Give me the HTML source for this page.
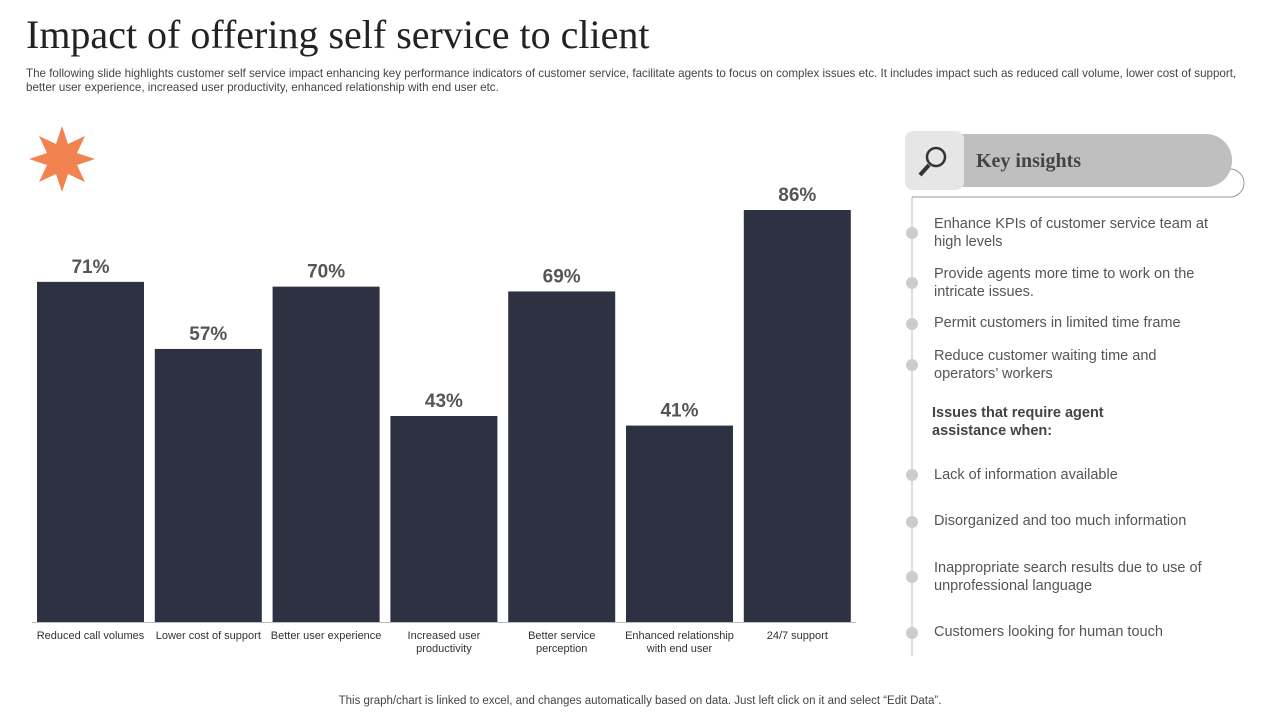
<!DOCTYPE html>
<html><head><meta charset="utf-8"><style>
body{margin:0;width:1280px;height:720px;background:#fff;font-family:"Liberation Sans",sans-serif;position:relative;overflow:hidden}
.abs{position:absolute}
h1{position:absolute;left:26px;top:11px;margin:0;font-family:"Liberation Serif",serif;font-weight:normal;font-size:40px;color:#222}
.sub{left:26px;top:67px;width:1215px;font-size:11.6px;line-height:14px;color:#444}
.item{left:934px;font-size:14.5px;line-height:18px;color:#555;width:290px}
.dot{left:906px;width:12px;height:12px;border-radius:50%;background:#ccc}
</style></head><body>
<h1>Impact of offering self service to client</h1>
<div class="abs sub">The following slide highlights customer self service impact enhancing key performance indicators of customer service, facilitate agents to focus on complex issues etc. It includes impact such as reduced call volume, lower cost of support, better user experience, increased user productivity, enhanced relationship with end user etc.</div>
<svg class="abs" style="left:0;top:0" width="880" height="680">
<polygon fill="#f0834f" points="62,126 68,144 85,136 77,153 95,159 77,165 85,182 68,174 62,192 56,174 39,182 47,165 29,159 47,153 39,136 56,144"/>
<g id="g"></g>
</svg>
<script>
const categories=["Reduced call volumes","Lower cost of support","Better user experience","Increased user|productivity","Better service|perception","Enhanced relationship|with end user","24/7 support"];
const values=[71,57,70,43,69,41,86];
const labels=["71%","57%","70%","43%","69%","41%","86%"];
const g=document.getElementById('g');const NS="http://www.w3.org/2000/svg";
const base=622,ppu=412/86,x0=37,step=117.8,bw=107;
function y(v){return base-v*ppu}
function mk(t,a){const e=document.createElementNS(NS,t);for(const k in a)e.setAttribute(k,a[k]);g.appendChild(e);return e}
const ax=mk('line',{x1:32,x2:856,y1:base+0.5,y2:base+0.5,stroke:'#bbb'});


values.forEach((v,i)=>{const x=x0+i*step;
const r=mk('rect',{x:x,y:y(v),width:bw,height:base-y(v),fill:'#2e3142'});


const t=mk('text',{x:x+bw/2,y:y(v)-9,'text-anchor':'middle','font-size':19,'font-weight':'bold',fill:'#555'});t.textContent=labels[i];


categories[i].split('|').forEach((l,j)=>{const c=mk('text',{x:x+bw/2,y:639+j*13,'text-anchor':'middle','font-size':11,fill:'#333'});c.textContent=l;

});
});
</script>
<svg class="abs" style="top:0;left:900px" width="380" height="680">
<path d="M12,197 L12,656" stroke="#bbb" fill="none"/>
<path d="M12,197 L330,197 A14,14 0 0 0 330,169 L320,169" stroke="#999" fill="none"/>
<rect x="20" y="134" width="312" height="53" rx="26" fill="#bfbfbf"/>
<rect x="5" y="131" width="59" height="59" rx="8" fill="#e6e6e6"/>
<circle cx="36" cy="157" r="9" fill="none" stroke="#333" stroke-width="2.5"/>
<line x1="29" y1="165" x2="20" y2="175" stroke="#333" stroke-width="4"/>
</svg>
<div class="abs" style="left:976px;top:150px;font-family:'Liberation Serif',serif;font-weight:bold;font-size:20px;color:#444">Key insights</div>
<div class="abs dot" style="top:227px"></div>
<div class="abs item" style="top:215px">Enhance KPIs of customer service team at high levels</div>
<div class="abs dot" style="top:277px"></div>
<div class="abs item" style="top:265px">Provide agents more time to work on the intricate issues.</div>
<div class="abs dot" style="top:318px"></div>
<div class="abs item" style="top:314px">Permit customers in limited time frame</div>
<div class="abs dot" style="top:359px"></div>
<div class="abs item" style="top:347px">Reduce customer waiting time and operators’ workers</div>
<div class="abs item" style="left:932px;top:404px;font-weight:bold;color:#444">Issues that require agent<br>assistance when:</div>
<div class="abs dot" style="top:469px"></div>
<div class="abs item" style="top:466px">Lack of information available</div>
<div class="abs dot" style="top:516px"></div>
<div class="abs item" style="top:512px">Disorganized and too much information</div>
<div class="abs dot" style="top:571px"></div>
<div class="abs item" style="top:559px">Inappropriate search results due to use of unprofessional language</div>
<div class="abs dot" style="top:627px"></div>
<div class="abs item" style="top:623px">Customers looking for human touch</div>
<div class="abs" style="left:0;width:1280px;top:695px;text-align:center;font-size:11.5px;color:#444">This graph/chart is linked to excel, and changes automatically based on data. Just left click on it and select “Edit Data”.</div>
</body></html>
